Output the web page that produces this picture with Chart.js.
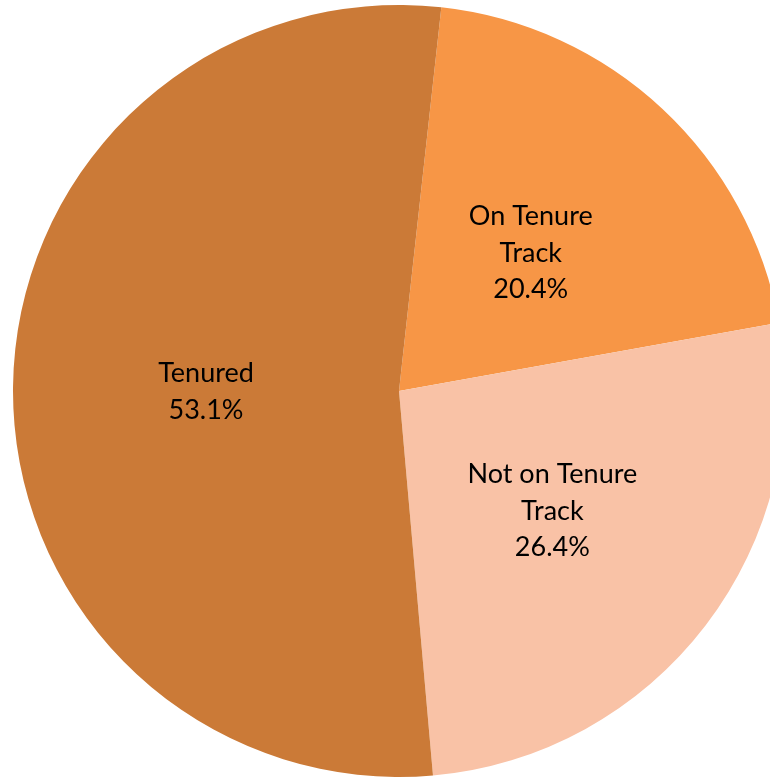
<!DOCTYPE html>
<html>
<head>
<meta charset="utf-8">
<script src="https://cdn.jsdelivr.net/npm/chart.js@4/dist/chart.umd.min.js"></script>
<style>
  html, body { margin: 0; padding: 0; background: #ffffff; overflow: hidden; width: 770px; height: 778px; }
  #wrap { position: absolute; left: 0; top: 0; width: 798px; height: 782px; }
</style>
</head>
<body>
<div id="wrap"><canvas id="c" width="798" height="782"></canvas></div>
<script>
const categories = ["On Tenure Track", "Not on Tenure Track", "Tenured"];
const labelLines = [["On Tenure", "Track"], ["Not on Tenure", "Track"], ["Tenured"]];
const values = [20.4, 26.4, 53.1];
const colors = ["#F79646", "#F9C2A6", "#CB7A37"];

const labelPlugin = {
  id: 'sliceLabels',
  afterDatasetsDraw(chart) {
    const ctx = chart.ctx;
    const meta = chart.getDatasetMeta(0);
    ctx.save();
    ctx.fillStyle = '#000000';
    ctx.font = '27px Lato, "Open Sans", sans-serif';
    ctx.textAlign = 'center';
    ctx.textBaseline = 'middle';
    const lh = 36.5;
    meta.data.forEach((arc, i) => {
      const p = arc.getCenterPoint();
      const lines = labelLines[i].concat([values[i].toFixed(1) + '%']);
      const y0 = p.y + 3 - (lines.length - 1) * lh / 2;
      lines.forEach((t, j) => ctx.fillText(t, p.x, y0 + j * lh));
    });
    ctx.restore();
  }
};

new Chart(document.getElementById('c'), {
  type: 'pie',
  data: {
    labels: categories,
    datasets: [{
      data: values,
      backgroundColor: colors,
      borderWidth: 0,
      hoverOffset: 0
    }]
  },
  options: {
    responsive: false,
    animation: false,
    events: [],
    rotation: 6.3,
    layout: { padding: 5 },
    plugins: { legend: { display: false }, tooltip: { enabled: false } }
  },
  plugins: [labelPlugin]
});
</script>
</body>
</html>
